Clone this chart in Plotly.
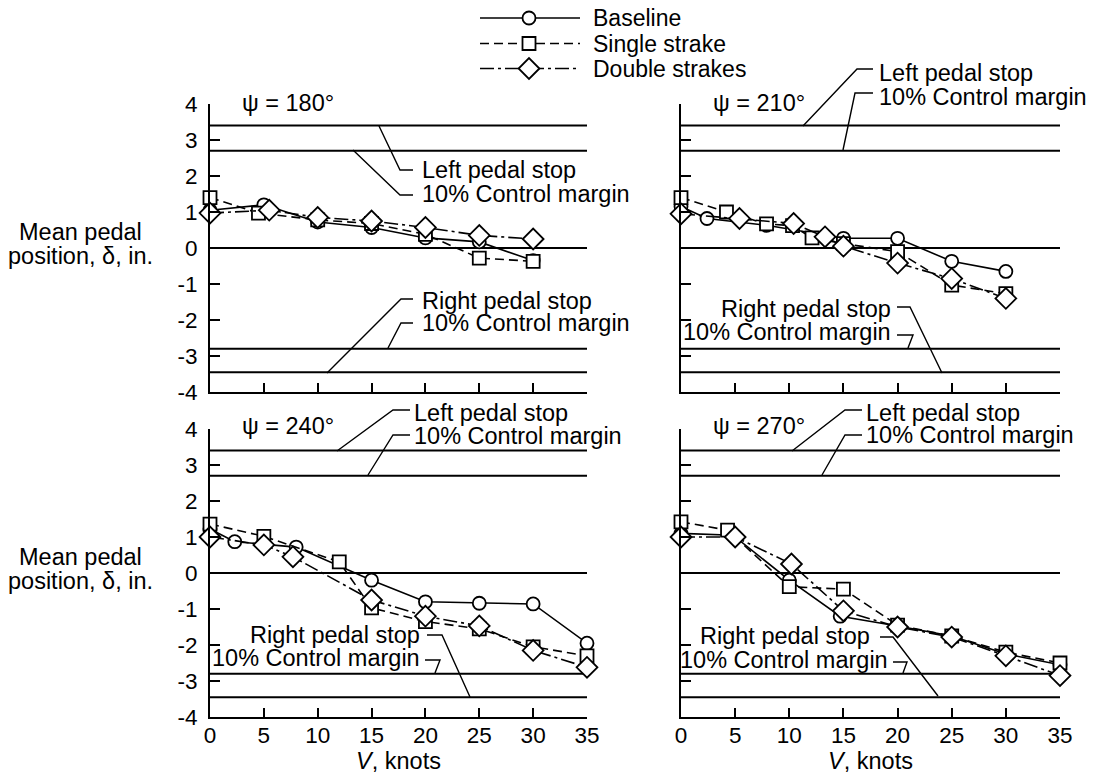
import plotly.graph_objects as go

# ---------------- data ----------------
series_names = ["Baseline", "Single strake", "Double strakes"]

# psi = 180 deg
v180_base = [0, 5, 10, 15, 20, 25, 30]
d180_base = [1.05, 1.2, 0.72, 0.57, 0.28, 0.17, -0.35]
v180_single = [0, 4.5, 10, 15, 20, 25, 30]
d180_single = [1.4, 0.97, 0.78, 0.68, 0.38, -0.28, -0.37]
v180_double = [0, 5.5, 10, 15, 20, 25, 30]
d180_double = [0.97, 1.05, 0.85, 0.75, 0.57, 0.35, 0.25]

# psi = 210 deg
v210_base = [0, 2.4, 7.9, 15, 20, 25, 30]
d210_base = [1.15, 0.82, 0.63, 0.27, 0.27, -0.37, -0.65]
v210_single = [0, 4.2, 7.9, 10.3, 12.1, 15, 20, 25, 30]
d210_single = [1.4, 1.0, 0.67, 0.62, 0.28, 0.12, -0.1, -1.03, -1.27]
v210_double = [0, 5.4, 10.4, 13.3, 15, 20, 25, 30]
d210_double = [0.95, 0.82, 0.68, 0.31, 0.05, -0.42, -0.85, -1.4]

# psi = 240 deg
v240_base = [0, 2.3, 8, 15, 20, 25, 30, 35]
d240_base = [1.22, 0.87, 0.72, -0.2, -0.8, -0.84, -0.86, -1.95]
v240_single = [0, 5, 12, 15, 20, 25, 30, 35]
d240_single = [1.36, 1.02, 0.31, -0.97, -1.35, -1.55, -2.05, -2.3]
v240_double = [0, 5, 7.7, 15, 20, 25, 30, 35]
d240_double = [1.0, 0.78, 0.45, -0.75, -1.2, -1.47, -2.15, -2.62]

# psi = 270 deg
v270_base = [0, 4.8, 10, 14.7, 20, 25, 30, 35]
d270_base = [1.1, 1.05, -0.2, -1.2, -1.47, -1.75, -2.25, -2.55]
v270_single = [0, 4.3, 10, 15, 20, 25, 30, 35]
d270_single = [1.42, 1.19, -0.38, -0.45, -1.45, -1.75, -2.2, -2.5]
v270_double = [0, 5, 10.2, 15, 20, 25, 30, 35]
d270_double = [1.0, 1.0, 0.25, -1.05, -1.5, -1.78, -2.3, -2.85]

panel_titles = ["\u03c8 = 180\u00b0", "\u03c8 = 210\u00b0", "\u03c8 = 240\u00b0", "\u03c8 = 270\u00b0"]

# reference levels (in.)
left_pedal_stop = 3.4
left_control_margin = 2.7
neutral = 0.0
right_control_margin = -2.8
right_pedal_stop = -3.45
ref_levels = [left_pedal_stop, left_control_margin, neutral, right_control_margin, right_pedal_stop]

x_ticks = [0, 5, 10, 15, 20, 25, 30, 35]
x_ticktext = ["0", "5", "10", "15", "20", "25", "30", "35"]
y_ticks = [4, 3, 2, 1, 0, -1, -2, -3, -4]
y_ticktext = ["4", "3", "2", "1", "0", "-1", "-2", "-3", "-4"]

panels = [
    [(v180_base, d180_base), (v180_single, d180_single), (v180_double, d180_double)],
    [(v210_base, d210_base), (v210_single, d210_single), (v210_double, d210_double)],
    [(v240_base, d240_base), (v240_single, d240_single), (v240_double, d240_double)],
    [(v270_base, d270_base), (v270_single, d270_single), (v270_double, d270_double)],
]

# ---------------- layout helpers ----------------
W, H = 1095, 780
FONT = "Liberation Sans, Arial, Helvetica, sans-serif"
TXT = 23.5


def px(x):
    return x / W


def py(y):
    return 1 - y / H


# plot areas in pixels: (left, right), (top, bottom)
x_dom_px = [(210, 587), (681, 1060), (210, 587), (681, 1060)]
y_dom_px = [(104, 392), (104, 392), (429, 717), (429, 717)]

styles = [
    dict(dash="solid", symbol="circle", size=13),
    dict(dash="9px,5px", symbol="square", size=13),
    dict(dash="14px,4px,3px,4px", symbol="diamond", size=16),
]

fig = go.Figure()
layout = dict(
    width=W, height=H,
    margin=dict(l=0, r=0, t=0, b=0, autoexpand=False),
    paper_bgcolor="white", plot_bgcolor="rgba(0,0,0,0)",
    font=dict(family=FONT, size=22, color="black"),
    showlegend=False,
)

for i in range(4):
    ax = "" if i == 0 else str(i + 1)
    xa, ya = "x" + ax, "y" + ax
    for j, (vs, ds) in enumerate(panels[i]):
        st = styles[j]
        fig.add_trace(go.Scatter(
            x=vs, y=ds, xaxis=xa, yaxis=ya, mode="lines+markers",
            name=series_names[j],
            line=dict(color="black", width=1.6, dash=st["dash"]),
            marker=dict(symbol=st["symbol"], size=st["size"],
                        color="white", line=dict(color="black", width=1.8)),
            cliponaxis=False,
        ))
    bottom = i >= 2
    left = i % 2 == 0
    layout["xaxis" + ax] = dict(
        domain=[px(x_dom_px[i][0]), px(x_dom_px[i][1])], anchor=ya,
        range=[0, 35], tickvals=x_ticks, ticktext=x_ticktext,
        showticklabels=bottom, ticks="inside", ticklen=9, tickwidth=2, tickcolor="black",
        showline=True, linecolor="black", linewidth=2, showgrid=False, zeroline=False,
        ticklabelstandoff=-3, tickfont=dict(size=22.5), automargin=False,
        title=dict(text="<i>V</i>, knots" if bottom else "", font=dict(size=TXT), standoff=0),
    )
    layout["yaxis" + ax] = dict(
        domain=[py(y_dom_px[i][1]), py(y_dom_px[i][0])], anchor=xa,
        range=[-4, 4], tickvals=y_ticks, ticktext=y_ticktext,
        showticklabels=left, ticks="inside", ticklen=10, tickwidth=2, tickcolor="black",
        showline=True, linecolor="black", linewidth=2, showgrid=False, zeroline=False,
        ticklabelstandoff=6, tickfont=dict(size=22.5), automargin=False,
    )

# hidden full-page axis for the legend key (pixel units)
layout["xaxis5"] = dict(domain=[0, 1], range=[0, W], visible=False, anchor="y5", fixedrange=True)
layout["yaxis5"] = dict(domain=[0, 1], range=[H, 0], visible=False, anchor="x5", fixedrange=True)

legend_rows = [18, 43.5, 68.5]
legend_x = [480, 529, 580]

shapes = []
annotations = []

for j in range(3):
    st = styles[j]
    r = legend_rows[j]
    fig.add_trace(go.Scatter(
        x=legend_x, y=[r, r, r], xaxis="x5", yaxis="y5", mode="lines+markers",
        name=series_names[j], hoverinfo="skip",
        line=dict(color="black", width=1.6, dash=st["dash"]),
        marker=dict(symbol=st["symbol"], size=st["size"], color="white",
                    opacity=[0, 1, 0], line=dict(color="black", width=1.8)),
        cliponaxis=False,
    ))

# reference horizontal lines
for i in range(4):
    ax = "" if i == 0 else str(i + 1)
    for lvl in ref_levels:
        shapes.append(dict(type="line", xref="x" + ax + " domain", yref="y" + ax,
                           x0=0, x1=1, y0=lvl, y1=lvl,
                           line=dict(color="black", width=2), layer="below"))


def leader(points):
    path = "M" + " L".join(f"{px(x):.5f},{py(y):.5f}" for x, y in points)
    shapes.append(dict(type="path", xref="paper", yref="paper", path=path,
                       line=dict(color="black", width=1.4)))


def label(text, x, y, anchor="left", size=TXT):
    annotations.append(dict(text=text, xref="paper", yref="paper", x=px(x), y=py(y),
                            xanchor=anchor, yanchor="middle", showarrow=False,
                            font=dict(size=size, family=FONT, color="black")))


# legend text
for j in range(3):
    label(series_names[j], 591, legend_rows[j], size=23)

# panel titles
for i, (tx, ty) in enumerate([(240, 103), (711, 103), (240, 426), (711, 426)]):
    label(panel_titles[i], tx, ty)

LPS, CM, RPS = "Left pedal stop", "10% Control margin", "Right pedal stop"

# panel 1 (180)
leader([(379, 126), (400, 170), (413, 170)]); label(LPS, 420, 170)
leader([(353, 150), (400, 195), (413, 195)]); label(CM, 420, 194)
leader([(413, 299), (401, 299), (327, 373)]); label(RPS, 420, 301)
leader([(413, 323), (401, 323), (388, 348)]); label(CM, 420, 323)

# panel 2 (210)
leader([(873, 69), (857, 69), (803, 126)]); label(LPS, 877, 73)
leader([(873, 93), (855, 93), (843, 150)]); label(CM, 877, 97)
leader([(897, 307), (910, 307), (942, 373)]); label(RPS, 893, 309, "right")
leader([(897, 335), (913, 335), (908, 348)]); label(CM, 893, 332, "right")

# panel 3 (240)
leader([(410, 410), (393, 410), (337, 451)]); label(LPS, 412, 413)
leader([(410, 435), (393, 435), (368, 475)]); label(CM, 412, 436)
leader([(427, 635), (442, 635), (470, 697)]); label(RPS, 422, 635, "right")
leader([(425, 660), (440, 660), (435, 673)]); label(CM, 422, 658, "right")

# panel 4 (270)
leader([(862, 410), (845, 410), (792, 451)]); label(LPS, 864, 413)
leader([(862, 435), (845, 435), (822, 475)]); label(CM, 864, 435)
leader([(880, 637), (893, 637), (938, 696)]); label(RPS, 872, 636, "right")
leader([(893, 662), (907, 662), (903, 673)]); label(CM, 890, 660, "right")

# y-axis titles
for (y1, y2) in [(232, 256), (557, 581)]:
    label("Mean pedal", 80, y1, "center")
    label("position, \u03b4, in.", 80, y2, "center")

layout["shapes"] = shapes
layout["annotations"] = annotations
fig.update_layout(**layout)
fig.write_html("out.html",
               config={"displayModeBar": False, "staticPlot": True},
               post_script="document.body.style.margin='0px';document.body.style.overflow='hidden';")
